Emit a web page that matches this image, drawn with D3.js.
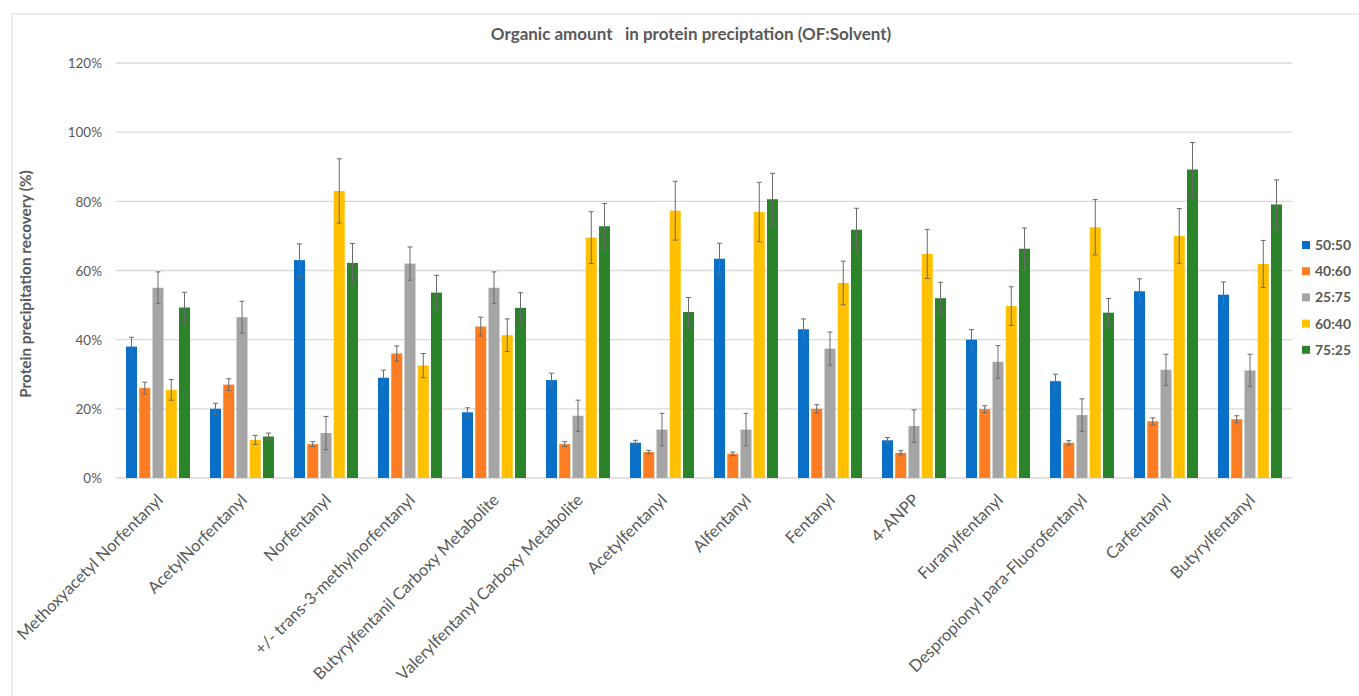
<!DOCTYPE html>
<html>
<head>
<meta charset="utf-8">
<script src="https://cdn.jsdelivr.net/npm/d3@7"></script>
<style>
  html, body { margin: 0; padding: 0; background: #fff; }
  svg { display: block; }
  text { font-family: Lato, "Open Sans", sans-serif; fill: #595959; }
</style>
</head>
<body>
<svg id="chart" width="1359" height="696"></svg>
<script>
// Compounds on the x axis
const categories = [
  "Methoxyacetyl Norfentanyl", "AcetylNorfentanyl", "Norfentanyl",
  "+/- trans-3-methylnorfentanyl", "Butyrylfentanil Carboxy Metabolite",
  "Valerylfentanyl Carboxy Metabolite", "Acetylfentanyl", "Alfentanyl",
  "Fentanyl", "4-ANPP", "Furanylfentanyl", "Despropionyl para-Fluorofentanyl",
  "Carfentanyl", "Butyrylfentanyl"
];

// Organic fluid : solvent ratios
const seriesNames = ["50:50", "40:60", "25:75", "60:40", "75:25"];

// Mean recovery (%) per ratio
const rec5050 = [38, 20, 63, 29, 19, 28.3, 10.2, 63.4, 43, 10.9, 40, 28, 54, 53];
const rec4060 = [26, 27, 9.8, 36, 43.8, 9.8, 7.5, 7, 20, 7.3, 19.9, 10.2, 16.4, 17];
const rec2575 = [55, 46.5, 13, 62, 55, 18, 14, 14, 37.4, 15, 33.6, 18.2, 31.3, 31.1];
const rec6040 = [25.5, 11, 83, 32.5, 41.3, 69.5, 77.3, 76.9, 56.4, 64.8, 49.7, 72.5, 70, 61.9];
const rec7525 = [49.3, 12, 62.2, 53.6, 49.2, 72.8, 48, 80.6, 71.8, 52, 66.3, 47.8, 89.2, 79.1];

// Error bar half-widths (%)
const err5050 = [2.7, 1.6, 4.7, 2.2, 1.3, 2, 0.7, 4.5, 3, 0.8, 2.9, 2, 3.6, 3.7];
const err4060 = [1.7, 1.7, 0.7, 2.2, 2.7, 0.7, 0.5, 0.5, 1.2, 0.6, 1.0, 0.6, 1.0, 1.0];
const err2575 = [4.6, 4.6, 4.8, 4.8, 4.6, 4.5, 4.7, 4.7, 4.8, 4.7, 4.7, 4.7, 4.5, 4.7];
const err6040 = [3, 1.3, 9.3, 3.5, 4.7, 7.5, 8.5, 8.6, 6.3, 7.1, 5.6, 8, 7.9, 6.8];
const err7525 = [4.4, 1, 5.6, 5, 4.4, 6.6, 4.2, 7.5, 6.2, 4.6, 6, 4.1, 7.8, 7.1];

// Y axis ticks
const yTicks = [0, 20, 40, 60, 80, 100, 120];

const seriesValues = [rec5050, rec4060, rec2575, rec6040, rec7525];
const seriesErrors = [err5050, err4060, err2575, err6040, err7525];
const colors = ["#0a6fc7", "#fe7d22", "#a5a5a5", "#ffc000", "#2b8429"];

const svg = d3.select("#chart");

// Chart frame
svg.append("path")
  .attr("d", "M12,696 L12,14 L1359,14")
  .attr("fill", "none")
  .attr("stroke", "#e6e6e6")
  .attr("stroke-width", 1.5);

const x0 = d3.scaleBand().domain(categories).range([116, 1292]).padding(0);
const x1 = d3.scaleBand().domain(seriesNames).range([-32, 32]).paddingInner(0.17);
const y = d3.scaleLinear().domain([0, 120]).range([478, 63]);

// Gridlines
svg.append("g").selectAll("line").data(yTicks).join("line")
  .attr("x1", 116).attr("x2", 1292)
  .attr("y1", d => y(d)).attr("y2", d => y(d))
  .attr("stroke", "#d9d9d9").attr("stroke-width", 1.3);

// Y tick labels
const yAxis = d3.axisLeft(y).tickValues(yTicks).tickFormat(d => d + "%").tickSize(0).tickPadding(0);
const gy = svg.append("g").attr("transform", "translate(102,0)").call(yAxis);
gy.select(".domain").remove();
gy.selectAll("text").style("font-size", "13.5px").attr("fill", "#595959").attr("dy", "0.35em");

// Bars
const rows = categories.map((c, i) => ({
  cat: c,
  items: seriesNames.map((s, k) => ({ s, k, v: seriesValues[k][i], e: seriesErrors[k][i] }))
}));

const groups = svg.append("g").selectAll("g").data(rows).join("g")
  .attr("transform", d => `translate(${x0(d.cat) + x0.bandwidth() / 2},0)`);

groups.selectAll("rect").data(d => d.items).join("rect")
  .attr("x", d => x1(d.s))
  .attr("width", x1.bandwidth())
  .attr("y", d => y(d.v))
  .attr("height", d => y(0) - y(d.v))
  .attr("fill", d => colors[d.k]);

// Error bars
const eb = groups.selectAll("g.err").data(d => d.items).join("g").attr("class", "err")
  .attr("transform", d => `translate(${x1(d.s) + x1.bandwidth() / 2},0)`);
eb.append("line")
  .attr("y1", d => y(d.v - d.e)).attr("y2", d => y(d.v + d.e))
  .attr("stroke", "#6b6b6b").attr("stroke-width", 1);
eb.append("line")
  .attr("x1", -2.5).attr("x2", 2.5)
  .attr("y1", d => y(d.v + d.e)).attr("y2", d => y(d.v + d.e))
  .attr("stroke", "#6b6b6b").attr("stroke-width", 1);
eb.append("line")
  .attr("x1", -2.5).attr("x2", 2.5)
  .attr("y1", d => y(d.v - d.e)).attr("y2", d => y(d.v - d.e))
  .attr("stroke", "#6b6b6b").attr("stroke-width", 1);

// Category labels, rotated
svg.append("g").selectAll("text").data(categories).join("text")
  .attr("transform", d => `translate(${x0(d) + x0.bandwidth() / 2 + 6},501) rotate(-45)`)
  .attr("text-anchor", "end")
  .style("font-size", "16.5px")
  .text(d => d);

// Title
svg.append("text")
  .attr("x", 691).attr("y", 40)
  .attr("text-anchor", "middle")
  .style("font-size", "17px").style("font-weight", "bold")
  .style("white-space", "pre")
  .text("Organic amount   in protein preciptation (OF:Solvent)");

// Y axis title
svg.append("text")
  .attr("transform", "translate(31,284) rotate(-90)")
  .attr("text-anchor", "middle")
  .style("font-size", "15.3px").style("font-weight", "bold")
  .text("Protein precipitation recovery (%)");

// Legend
const leg = svg.append("g").selectAll("g").data(seriesNames).join("g")
  .attr("transform", (d, i) => `translate(1302,${245 + i * 26.2})`);
leg.append("rect").attr("x", 0).attr("y", -4).attr("width", 8).attr("height", 8)
  .attr("fill", (d, i) => colors[i]);
leg.append("text").attr("x", 13).attr("y", 5)
  .style("font-size", "14px").style("font-weight", "bold")
  .text(d => d);
</script>
</body>
</html>
